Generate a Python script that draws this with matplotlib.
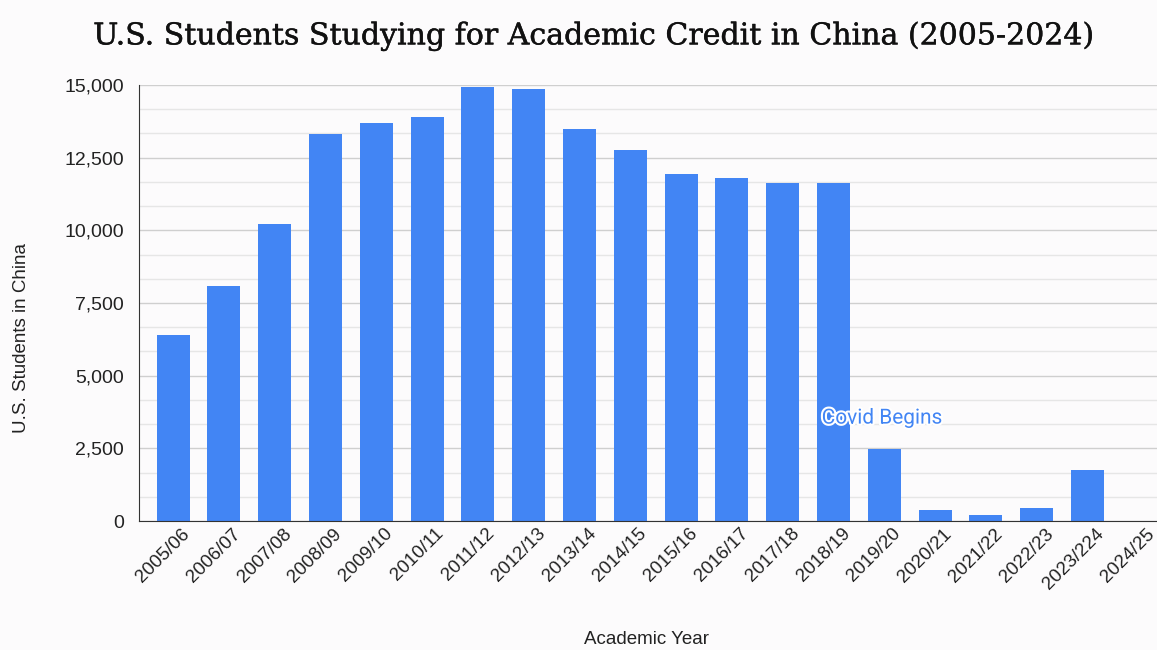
import matplotlib
matplotlib.use("Agg")
import matplotlib.pyplot as plt
import matplotlib.patheffects as pe
import matplotlib.transforms as mtransforms
from matplotlib.ticker import FuncFormatter, MultipleLocator

years = ["2005/06", "2006/07", "2007/08", "2008/09", "2009/10", "2010/11", "2011/12",
         "2012/13", "2013/14", "2014/15", "2015/16", "2016/17", "2017/18", "2018/19",
         "2019/20", "2020/21", "2021/22", "2022/23", "2023/224", "2024/25"]
students = [6389, 8084, 10220, 13313, 13690, 13898, 14930, 14861, 13485, 12762,
            11937, 11800, 11639, 11639, 2481, 382, 211, 450, 1750, 0]

bg = "#fcfbfc"
fig = plt.figure(figsize=(11.57, 6.5), dpi=100, facecolor=bg)
ax = fig.add_axes([139/1157, 1 - 521/650, (1157 - 139)/1157, (521 - 85)/650], facecolor=bg)

x = list(range(len(years)))
ax.bar(x, students, width=0.65, color="#4285F4", zorder=3)

ax.set_ylim(0, 15000)
ax.set_xlim(-0.67, 19.37)
ax.yaxis.set_major_locator(MultipleLocator(2500))
ax.yaxis.set_minor_locator(MultipleLocator(2500/3))
ax.yaxis.set_major_formatter(FuncFormatter(lambda v, p: f"{int(v):,}"))
ax.grid(axis="y", which="major", color="#cfcfcf", linewidth=1, zorder=0)
ax.grid(axis="y", which="minor", color="#e6e6e6", linewidth=1, zorder=0)
ax.tick_params(axis="y", which="both", length=0, pad=11, labelsize=14, labelcolor="#222222")
ax.tick_params(axis="x", length=0, pad=3, labelsize=13.5, labelcolor="#222222")
ax.set_xticks(x)
ax.set_xticklabels(years, rotation=45, ha="right", rotation_mode="anchor")
offset = mtransforms.ScaledTranslation(8/100, 0, fig.dpi_scale_trans)
for lab in ax.get_xticklabels():
    lab.set_transform(lab.get_transform() + offset)
for s in ["top", "right"]:
    ax.spines[s].set_visible(False)
ax.spines["left"].set_color("#333333")
ax.spines["bottom"].set_color("#333333")
ax.spines["left"].set_zorder(4)
ax.spines["bottom"].set_zorder(4)

for lab in ax.get_xticklabels() + ax.get_yticklabels():
    lab.set_fontfamily("Liberation Sans")

ax.set_xlabel("Academic Year", fontsize=13.5, family="Liberation Sans", color="#222222")
ax.set_ylabel("U.S. Students in China", fontsize=13.5, family="Liberation Sans", color="#222222")
ax.xaxis.set_label_coords((647 - 139)/(1157 - 139), -(640 - 521)/436)
ax.xaxis.label.set_va("center")
ax.yaxis.set_label_coords(-(139 - 22)/(1157 - 139), (521 - 338)/436)
ax.yaxis.label.set_va("center")

ax.text(12.77, 3540, "Covid Begins", fontsize=15, family="Roboto", color="#4285F4",
        va="center", ha="left", zorder=5,
        path_effects=[pe.withStroke(linewidth=3, foreground="white")])

fig.text(594/1157, 1 - 36/650, "U.S. Students Studying for Academic Credit in China (2005-2024)",
         fontsize=21.6, family="DejaVu Serif", color="#111111", ha="center", va="center",
         path_effects=[pe.withStroke(linewidth=0.3, foreground="#111111")])

fig.savefig("out.png", dpi=100, facecolor=bg)
